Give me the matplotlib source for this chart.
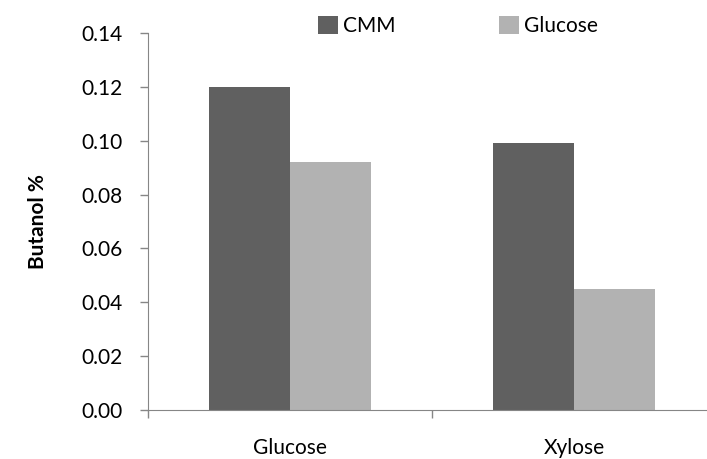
import matplotlib.pyplot as plt
import numpy as np

categories = ["Glucose", "Xylose"]
series_names = ["CMM", "Glucose"]
cmm_values = [0.120, 0.099]
glucose_values = [0.092, 0.045]

plt.rcParams["font.family"] = ["Lato", "DejaVu Sans"]

W, H = 707, 459
fig = plt.figure(figsize=(W / 100, H / 100), dpi=100)
# axes spans past the right edge, like the cropped original
ax = fig.add_axes([148 / W, 1 - 410 / H, (716 - 148) / W, (410 - 33) / H])

x = np.arange(len(categories))
bw = 0.285
ax.bar(x - bw / 2, cmm_values, bw, color="#606060", label=series_names[0])
ax.bar(x + bw / 2, glucose_values, bw, color="#b2b2b2", label=series_names[1])

ax.set_xlim(-0.5, 1.5)
ax.set_ylim(0, 0.14)
ax.set_yticks(np.arange(0, 0.141, 0.02))
ax.set_yticklabels([f"{v:.2f}" for v in np.arange(0, 0.141, 0.02)])
ax.set_xticks([-0.5, 0.5, 1.5])
ax.set_xticklabels([])
ax.set_xticks(x, minor=True)
ax.set_xticklabels(categories, minor=True)
ax.tick_params(axis="x", which="minor", length=0, pad=20, labelsize=15)
ax.tick_params(axis="x", which="major", length=6, color="#868686", width=1)
ax.tick_params(axis="y", length=6, color="#868686", width=1, labelsize=15, pad=12)

for s in ["top", "right"]:
    ax.spines[s].set_visible(False)
for s in ["left", "bottom"]:
    ax.spines[s].set_color("#868686")

ax.set_ylabel("Butanol %", fontsize=15, fontweight="bold", labelpad=24)

fig.legend(loc="center", bbox_to_anchor=(458 / W, 1 - 26 / H), ncol=2, frameon=False,
           fontsize=15, handlelength=0.95, handleheight=0.95, columnspacing=5.0, handletextpad=0.25)

fig.savefig("out.png", dpi=100)
